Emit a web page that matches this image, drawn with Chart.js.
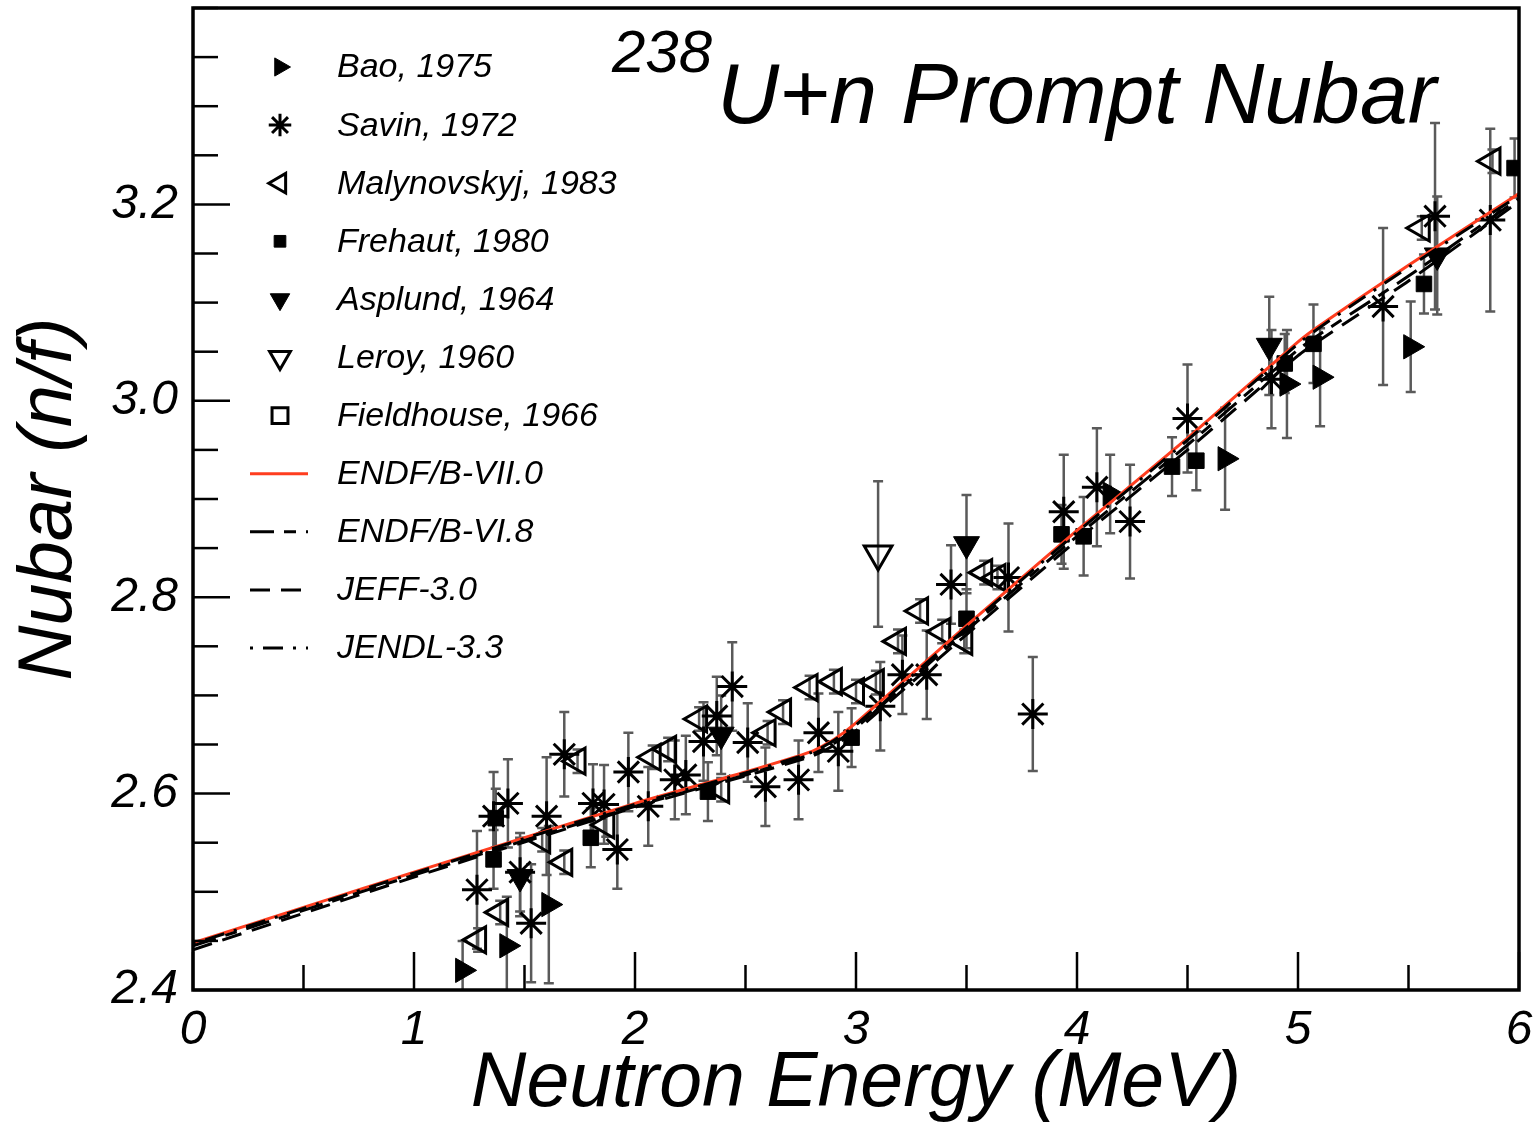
<!DOCTYPE html>
<html>
<head>
<meta charset="utf-8">
<script src="https://cdn.jsdelivr.net/npm/chart.js@4.4.0/dist/chart.umd.min.js"></script>
<style>
  html, body { margin: 0; padding: 0; background: #fff; }
  #wrap { width: 1540px; height: 1129px; position: relative; }
</style>
</head>
<body>
<div id="wrap"><canvas id="myChart"></canvas></div>
<script>
// measured data (neutron energy in MeV, prompt nubar in n/f, 1-sigma error)
var baoE   = [1.22, 1.42, 1.61, 4.15, 4.67, 4.95, 5.10, 5.51];
var baoNu  = [2.420, 2.445, 2.487, 2.905, 2.941, 3.017, 3.024, 3.055];
var baoErr = [0.03, 0.05, 0.08, 0.04, 0.052, 0.055, 0.05, 0.046];

var savinE   = [1.285, 1.36, 1.425, 1.48, 1.53, 1.60, 1.68, 1.81, 1.86, 1.92, 1.97, 2.06, 2.18, 2.23, 2.31, 2.37, 2.44, 2.51, 2.59, 2.74, 2.83, 2.92, 3.11, 3.21, 3.32, 3.43, 3.69, 3.80, 3.94, 4.09, 4.24, 4.50, 4.88, 5.385, 5.62, 5.87];
var savinNu  = [2.502, 2.577, 2.590, 2.520, 2.468, 2.577, 2.640, 2.590, 2.589, 2.543, 2.622, 2.587, 2.614, 2.619, 2.653, 2.679, 2.709, 2.652, 2.607, 2.614, 2.662, 2.643, 2.689, 2.721, 2.721, 2.813, 2.820, 2.681, 2.887, 2.912, 2.877, 2.982, 3.022, 3.096, 3.188, 3.184];
var savinErr = [0.06, 0.045, 0.045, 0.04, 0.06, 0.06, 0.043, 0.04, 0.04, 0.04, 0.04, 0.04, 0.04, 0.04, 0.04, 0.04, 0.045, 0.04, 0.04, 0.04, 0.04, 0.04, 0.045, 0.04, 0.045, 0.04, 0.055, 0.058, 0.058, 0.06, 0.058, 0.055, 0.05, 0.08, 0.095, 0.093];

var malyE   = [1.29, 1.39, 1.58, 1.68, 1.74, 1.87, 2.08, 2.15, 2.29, 2.39, 2.60, 2.67, 2.79, 2.90, 3.00, 3.09, 3.19, 3.29, 3.39, 3.49, 3.58, 3.64, 5.56, 5.88];
var malyNu  = [2.451, 2.479, 2.553, 2.530, 2.633, 2.568, 2.637, 2.645, 2.676, 2.604, 2.662, 2.683, 2.708, 2.714, 2.704, 2.713, 2.755, 2.786, 2.765, 2.755, 2.825, 2.820, 3.176, 3.244];
var malyErr = [0.012, 0.012, 0.012, 0.012, 0.012, 0.012, 0.012, 0.012, 0.012, 0.012, 0.012, 0.012, 0.012, 0.012, 0.012, 0.012, 0.012, 0.012, 0.012, 0.012, 0.012, 0.012, 0.012, 0.012];

var frehautE   = [1.36, 1.37, 1.80, 2.33, 2.98, 3.50, 3.93, 4.03, 4.43, 4.54, 4.94, 5.07, 5.57, 5.98];
var frehautNu  = [2.533, 2.575, 2.555, 2.602, 2.657, 2.778, 2.864, 2.862, 2.933, 2.939, 3.038, 3.058, 3.119, 3.237];
var frehautErr = [0.03, 0.03, 0.03, 0.03, 0.03, 0.03, 0.03, 0.04, 0.03, 0.03, 0.03, 0.04, 0.03, 0.03];

var asplundE   = [1.48, 2.39, 3.50, 4.87, 5.63];
var asplundNu  = [2.515, 2.660, 2.854, 3.056, 3.148];
var asplundErr = [0.04, 0.04, 0.05, 0.05, 0.06];

var leroyE   = [3.10];
var leroyNu  = [2.844];
var leroyErr = [0.074];

var fieldE   = [];
var fieldNu  = [];
var fieldErr = [];

// evaluations
var evalE   = [0, 1, 2, 2.5, 2.8, 2.9, 3.0, 3.5, 4.0, 4.5, 5.0, 5.1, 5.5, 6.0];
var endf70  = [2.448, 2.520, 2.590, 2.622, 2.643, 2.655, 2.672, 2.771, 2.868, 2.962, 3.060, 3.077, 3.138, 3.211];
var endf68  = [2.445, 2.517, 2.587, 2.619, 2.640, 2.651, 2.667, 2.766, 2.862, 2.955, 3.052, 3.068, 3.127, 3.206];
var jeff30  = [2.441, 2.515, 2.586, 2.618, 2.638, 2.649, 2.664, 2.762, 2.858, 2.950, 3.046, 3.062, 3.122, 3.203];
var jendl33 = [2.447, 2.519, 2.589, 2.621, 2.642, 2.654, 2.670, 2.769, 2.866, 2.960, 3.058, 3.075, 3.136, 3.209];

var xTickValues = [0, 1, 2, 3, 4, 5, 6];
var xTickLabels = ['0', '1', '2', '3', '4', '5', '6'];
var yTickValues = [2.4, 2.6, 2.8, 3.0, 3.2];
var yTickLabels = ['2.4', '2.6', '2.8', '3.0', '3.2'];

function pts(xs, ys) {
    return xs.map(function (x, i) { return { x: x, y: ys[i] }; });
}
function findTick(list, v) {
    return list.findIndex(function (t) { return Math.abs(t - v) < 1e-6; });
}

var FONT = '"Liberation Sans", Arial, sans-serif';

function markers(label, xs, ys, errs, style, rot, r, fill, bw) {
    return {
        label: label, data: pts(xs, ys), errors: errs,
        pointStyle: style, rotation: rot, pointRadius: r,
        backgroundColor: fill, borderColor: '#000', borderWidth: bw,
        pointHoverRadius: r, showLine: false, order: 2
    };
}
function curve(label, ys, color, dash, order) {
    return {
        label: label, data: pts(evalE, ys), showLine: true, pointRadius: 0,
        borderColor: color, backgroundColor: color, borderWidth: 3,
        borderDash: dash, fill: false, tension: 0.2, order: order, isCurve: true
    };
}

var errorBars = {
    id: 'errorBars',
    beforeDatasetsDraw: function (chart) {
        var ctx = chart.ctx, xs = chart.scales.x, ys = chart.scales.y, a = chart.chartArea;
        ctx.save();
        ctx.beginPath();
        ctx.rect(a.left, a.top, a.right - a.left, a.bottom - a.top);
        ctx.clip();
        ctx.strokeStyle = '#5a5a5a';
        ctx.lineWidth = 2.5;
        chart.data.datasets.forEach(function (ds) {
            if (!ds.errors) return;
            ds.data.forEach(function (p, i) {
                var e = ds.errors[i];
                var px = xs.getPixelForValue(p.x);
                var y1 = ys.getPixelForValue(p.y + e), y2 = ys.getPixelForValue(p.y - e);
                ctx.beginPath();
                ctx.moveTo(px, y1); ctx.lineTo(px, y2);
                ctx.moveTo(px - 5, y1); ctx.lineTo(px + 5, y1);
                ctx.moveTo(px - 5, y2); ctx.lineTo(px + 5, y2);
                ctx.stroke();
            });
        });
        ctx.restore();
    }
};

var frameTicks = {
    id: 'frameTicks',
    afterDatasetsDraw: function (chart) {
        var ctx = chart.ctx, a = chart.chartArea;
        var xs = chart.scales.x, ys = chart.scales.y;
        ctx.save();
        ctx.strokeStyle = '#000';
        ctx.lineWidth = 2.5;
        ys.ticks.forEach(function (t) {
            var py = ys.getPixelForValue(t.value);
            var len = findTick(yTickValues, t.value) >= 0 ? 37 : 25;
            ctx.beginPath(); ctx.moveTo(a.left, py); ctx.lineTo(a.left + len, py); ctx.stroke();
        });
        xs.ticks.forEach(function (t) {
            var px = xs.getPixelForValue(t.value);
            var len = findTick(xTickValues, t.value) >= 0 ? 38 : 25;
            ctx.beginPath(); ctx.moveTo(px, a.bottom); ctx.lineTo(px, a.bottom - len); ctx.stroke();
        });
        ctx.lineWidth = 3.5;
        ctx.strokeRect(a.left, a.top, a.right - a.left, a.bottom - a.top);
        ctx.restore();
    }
};

var insideLegend = {
    id: 'insideLegend',
    afterDraw: function (chart) {
        var ctx = chart.ctx, a = chart.chartArea;
        var mx = a.left + 87, tx = a.left + 144;
        ctx.save();
        ctx.font = 'italic 34px ' + FONT;
        ctx.textBaseline = 'middle';
        chart.data.datasets.forEach(function (ds, i) {
            var y = a.top + 59 + i * 58.1;
            if (ds.isCurve) {
                ctx.strokeStyle = ds.borderColor;
                ctx.lineWidth = 3;
                ctx.setLineDash(ds.borderDash);
                ctx.beginPath(); ctx.moveTo(a.left + 57, y); ctx.lineTo(a.left + 115, y); ctx.stroke();
                ctx.setLineDash([]);
            } else {
                ctx.fillStyle = ds.backgroundColor;
                ctx.strokeStyle = '#000';
                ctx.lineWidth = ds.borderWidth;
                Chart.helpers.drawPoint(ctx, {
                    pointStyle: ds.pointStyle, rotation: ds.rotation,
                    radius: ds.pointRadius * 0.75, borderWidth: ds.borderWidth
                }, mx, y);
            }
            ctx.fillStyle = '#000';
            ctx.fillText(ds.label, tx, y + 1);
        });
        // title with superscript mass number
        ctx.textBaseline = 'alphabetic';
        ctx.font = 'italic 60px ' + FONT;
        ctx.fillText('238', a.left + 419, a.top + 64);
        ctx.font = 'italic 86px ' + FONT;
        ctx.fillText('U+n Prompt Nubar', a.left + 524, a.top + 115);
        ctx.restore();
    }
};

var ctx = document.getElementById('myChart').getContext('2d');
var myChart = new Chart(ctx, {
    type: 'scatter',
    data: {
        datasets: [
            markers('Bao, 1975', baoE, baoNu, baoErr, 'triangle', 90, 14, '#000', 1),
            markers('Savin, 1972', savinE, savinNu, savinErr, 'star', 0, 15, '#000', 3),
            markers('Malynovskyj, 1983', malyE, malyNu, malyErr, 'triangle', 270, 15, 'rgba(255,255,255,0)', 3),
            markers('Frehaut, 1980', frehautE, frehautNu, frehautErr, 'rect', 0, 11, '#000', 1),
            markers('Asplund, 1964', asplundE, asplundNu, asplundErr, 'triangle', 180, 15, '#000', 1),
            markers('Leroy, 1960', leroyE, leroyNu, leroyErr, 'triangle', 180, 16, 'rgba(255,255,255,0)', 3),
            markers('Fieldhouse, 1966', fieldE, fieldNu, fieldErr, 'rect', 0, 15, 'rgba(255,255,255,0)', 3),
            curve('ENDF/B-VII.0', endf70, '#ff3d1f', [], 1),
            curve('ENDF/B-VI.8', endf68, '#000', [24, 10, 12, 10], 0),
            curve('JEFF-3.0', jeff30, '#000', [20, 11], 0),
            curve('JENDL-3.3', jendl33, '#000', [3, 10, 20, 10], 0)
        ]
    },
    options: {
        responsive: true,
        maintainAspectRatio: false,
        animation: false,
        layout: { autoPadding: false, padding: { top: 8, right: 21, left: 0, bottom: 0 } },
        plugins: {
            legend: { display: false },
            tooltip: { enabled: false }
        },
        scales: {
            x: {
                type: 'linear',
                min: 0, max: 6,
                border: { display: false },
                grid: { drawOnChartArea: false, drawTicks: false },
                ticks: {
                    stepSize: 0.5, autoSkip: false, maxRotation: 0, padding: 12,
                    color: '#000',
                    font: { family: FONT, size: 48, style: 'italic' },
                    callback: function (v) {
                        var k = findTick(xTickValues, v);
                        return k < 0 ? '' : xTickLabels[k];
                    }
                },
                title: {
                    display: true, text: 'Neutron Energy (MeV)', color: '#000',
                    font: { family: FONT, size: 77, style: 'italic', lineHeight: 1 },
                    padding: { top: 0, bottom: 6 }
                },
                afterFit: function (s) {
                    s.height = 139;
                    s.paddingLeft = 0; s.paddingRight = 0;
                }
            },
            y: {
                type: 'linear',
                min: 2.4, max: 3.4,
                border: { display: false },
                grid: { drawOnChartArea: false, drawTicks: false },
                ticks: {
                    stepSize: 0.05, autoSkip: false, padding: 15,
                    color: '#000',
                    font: { family: FONT, size: 48, style: 'italic' },
                    callback: function (v) {
                        var k = findTick(yTickValues, v);
                        return k < 0 ? '' : yTickLabels[k];
                    }
                },
                title: {
                    display: true, text: 'Nubar (n/f)', color: '#000',
                    font: { family: FONT, size: 76, style: 'italic', lineHeight: 1.2 },
                    padding: { top: 4, bottom: 0 }
                },
                afterFit: function (s) {
                    s.width = 193;
                    s.paddingTop = 0; s.paddingBottom = 0;
                }
            }
        }
    },
    plugins: [errorBars, frameTicks, insideLegend]
});
</script>
</body>
</html>
